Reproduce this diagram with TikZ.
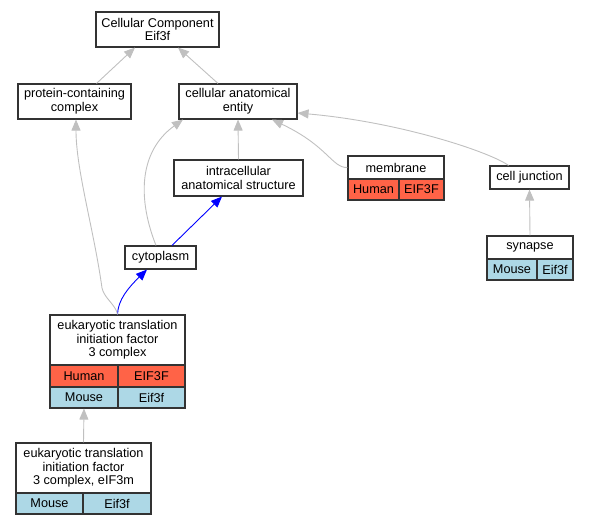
\documentclass[tikz,border=0pt]{standalone}
\usepackage{fontspec}
\setmainfont{Liberation Sans}
\usetikzlibrary{arrows.meta}
\definecolor{tomatoC}{HTML}{FF6347}
\definecolor{lblue}{HTML}{ADD8E6}
\definecolor{edgegray}{HTML}{C0C0C0}
\definecolor{boxline}{HTML}{333333}
\newcommand{\fs}{\fontsize{12.7}{13.6}\selectfont}
\tikzset{
  box/.style={draw=boxline, line width=1.1pt, inner sep=0pt, align=center, font=\fs, fill=white},
  human/.style={box, fill=tomatoC},
  mouse/.style={box, fill=lblue},
  edge/.style={draw=edgegray, line width=0.9pt, -{Triangle[length=11pt,width=9pt]}},
  bedge/.style={draw=blue, line width=0.9pt, -{Triangle[length=11pt,width=9pt]}},
}
\begin{document}
\begin{tikzpicture}[x=1pt,y=-1pt]
\useasboundingbox (0,0) rectangle (589,525);
% plain nodes
\node[box, minimum width=123pt, minimum height=35pt] (cc) at (157.5,29.5) {Cellular Component\\Eif3f};
\node[box, minimum width=113pt, minimum height=35pt] (pcc) at (74.5,101.5) {protein-containing\\complex};
\node[box, minimum width=118pt, minimum height=35pt] (cae) at (238,101.5) {cellular anatomical\\entity};
\node[box, minimum width=129pt, minimum height=36pt] (ias) at (238.5,178) {intracellular\\anatomical structure};
\node[box, minimum width=71pt, minimum height=23pt] (cyt) at (160.5,257.5) {cytoplasm};
\node[box, minimum width=79pt, minimum height=23pt] (cj) at (529.5,177.5) {cell junction};
% membrane
\node[box, minimum width=96pt, minimum height=23pt] (memb) at (396,167.5) {membrane};
\node[human, minimum width=51pt, minimum height=21pt] (membH) at (373.5,189.5) {Human};
\node[human, minimum width=45pt, minimum height=21pt] (membG) at (421.5,189.5) {EIF3F};
% synapse
\node[box, minimum width=86pt, minimum height=23pt] (syn) at (530,247.5) {synapse};
\node[mouse, minimum width=50pt, minimum height=21pt] (synM) at (512,269.5) {Mouse};
\node[mouse, minimum width=36pt, minimum height=21pt] (synG) at (555,269.5) {Eif3f};
% eukaryotic translation initiation factor 3 complex
\node[box, minimum width=135pt, minimum height=50pt] (etif) at (117.5,340) {eukaryotic translation\\initiation factor\\3 complex};
\node[human, minimum width=68pt, minimum height=22pt] (etifH) at (84,376) {Human};
\node[human, minimum width=67pt, minimum height=22pt] (etifHG) at (151.5,376) {EIF3F};
\node[mouse, minimum width=68pt, minimum height=21pt] (etifM) at (84,397.5) {Mouse};
\node[mouse, minimum width=67pt, minimum height=21pt] (etifMG) at (151.5,397.5) {Eif3f};
% eIF3m
\node[box, minimum width=135pt, minimum height=50pt] (eif3m) at (83.5,468) {eukaryotic translation\\initiation factor\\3 complex, eIF3m};
\node[mouse, minimum width=67pt, minimum height=21pt] (eif3mM) at (49.5,503.5) {Mouse};
\node[mouse, minimum width=68pt, minimum height=21pt] (eif3mG) at (117,503.5) {Eif3f};
% edges
\draw[edge] ([xshift=22pt]pcc.north) -- ([xshift=-22.5pt]cc.south);
\draw[edge] ([xshift=-20pt]cae.north) -- ([xshift=20.5pt]cc.south);
\draw[edge] (ias.north) -- (cae.south);
\draw[edge] (memb.west) .. controls (332,168) and (328,146) .. ([xshift=34pt]cae.south);
\draw[edge] ([xshift=-21pt]cj.north) .. controls (490,152) and (400,122) .. ([yshift=-11.5pt]cae.east);
\draw[edge] ([xshift=-4.5pt]cyt.north) .. controls (138,200) and (138,152) .. ([xshift=-55pt]cae.south);
\draw[bedge] ([xshift=11.5pt]cyt.north) -- ([xshift=-16.5pt]ias.south);
\draw[bedge] (etif.north) .. controls (118,300) and (128,288) .. ([xshift=-13.5pt]cyt.south);
\draw[edge] (etif.north) .. controls (116,305) and (104,298) .. (102,288) .. controls (94,230) and (76,170) .. ([xshift=1.5pt]pcc.south);
\draw[edge] (syn.north) -- (cj.south);
\draw[edge] (eif3m.north) -- (etifM.south);
\end{tikzpicture}
\end{document}
